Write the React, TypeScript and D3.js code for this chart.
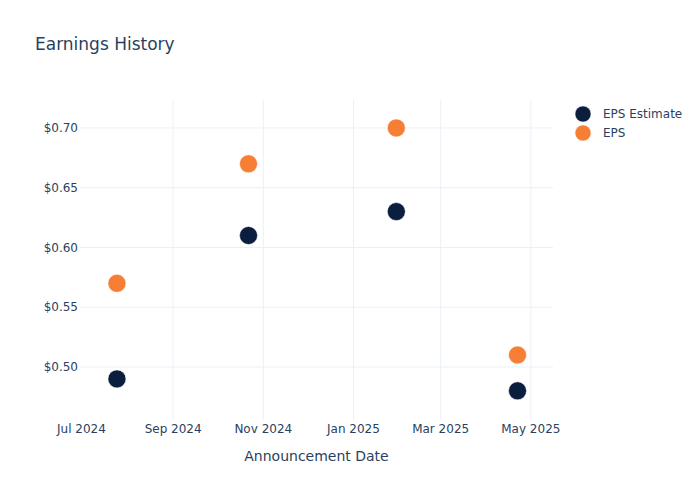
import React from "react";
import * as d3 from "d3";

const dates = ["2024-07-25", "2024-10-22", "2025-01-30", "2025-04-22"];
const epsEstimate = [0.49, 0.61, 0.63, 0.48];
const eps = [0.57, 0.67, 0.7, 0.51];
const xTicks = ["2024-07-01", "2024-09-01", "2024-11-01", "2025-01-01", "2025-03-01", "2025-05-01"];
const yTicks = [0.5, 0.55, 0.6, 0.65, 0.7];
const seriesNames = ["EPS Estimate", "EPS"];
const colors = ["#0c1e3e", "#f77f35"];

const W = 700, H = 500;
const M = { l: 80, r: 147, t: 100, b: 80 };
const font = "'DejaVu Sans', Verdana, sans-serif";
const textColor = "#2a3f5f";

export default function App() {
  const parse = d3.utcParse("%Y-%m-%d");
  const x = d3
    .scaleUtc()
    .domain([parse("2024-06-30")!, parse("2025-05-16")!])
    .range([M.l, W - M.r]);
  const y = d3.scaleLinear().domain([0.4556, 0.7234]).range([H - M.b, M.t]);
  const fmtX = d3.utcFormat("%b %Y");
  const series = [epsEstimate, eps];
  return (
    <svg width={W} height={H} style={{ position: "absolute", left: 0, top: 0, fontFamily: font }}>
      <rect x={0} y={0} width={W} height={H} fill="#fff" />
      {xTicks.map((t) => {
        const xv = x(parse(t)!);
        return (
          <g key={t}>
            {t !== "2024-07-01" && (
              <line x1={xv} x2={xv} y1={M.t} y2={H - M.b} stroke="#ebf0f8" strokeWidth={1} />
            )}
            <text x={xv} y={H - M.b + 13} fontSize={12} fill={textColor} textAnchor="middle">
              {fmtX(parse(t)!)}
            </text>
          </g>
        );
      })}
      {yTicks.map((t) => (
        <g key={t}>
          <line x1={M.l} x2={W - M.r} y1={y(t)} y2={y(t)} stroke="#ebf0f8" strokeWidth={1} />
          <text x={M.l - 2} y={y(t)} dy="0.35em" fontSize={12} fill={textColor} textAnchor="end">
            {"$" + t.toFixed(2)}
          </text>
        </g>
      ))}
      {series.map((s, si) =>
        s.map((v, i) => (
          <circle
            key={si + "-" + i}
            cx={x(parse(dates[i])!)}
            cy={y(v)}
            r={9}
            fill={colors[si]}
            stroke="#fff"
            strokeWidth={0.5}
          />
        ))
      )}
      <text x={35} y={50} fontSize={17} fill={textColor}>
        Earnings History
      </text>
      <text x={(M.l + W - M.r) / 2} y={461} fontSize={14} fill={textColor} textAnchor="middle">
        Announcement Date
      </text>
      {seriesNames.map((n, i) => (
        <g key={n}>
          <circle cx={583} cy={114 + i * 19} r={8} fill={colors[i]} stroke="#fff" strokeWidth={0.5} />
          <text x={603} y={114 + i * 19} dy="0.35em" fontSize={12} fill={textColor}>
            {n}
          </text>
        </g>
      ))}
    </svg>
  );
}
